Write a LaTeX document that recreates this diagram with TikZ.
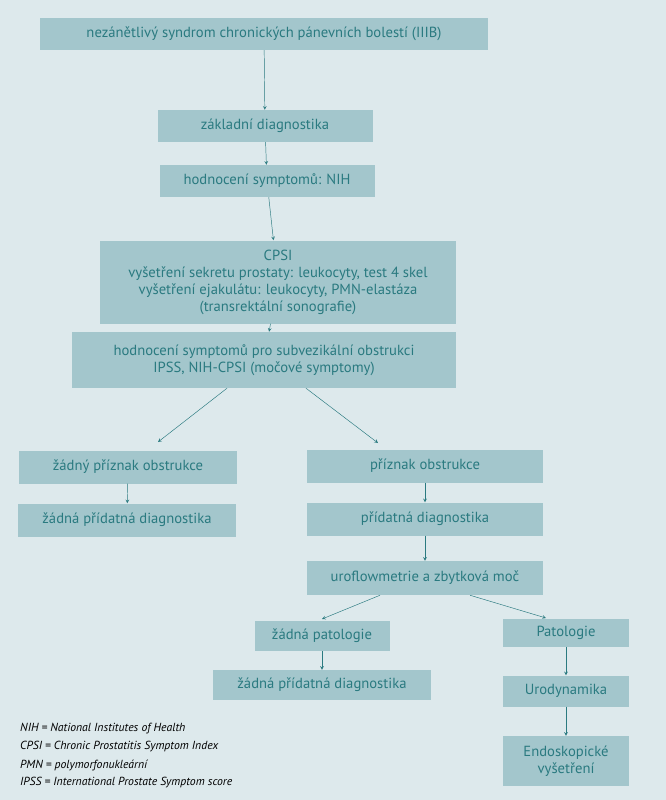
\documentclass[tikz,border=0pt]{standalone}
\usepackage{fontspec}
\setmainfont{PT Sans}
\definecolor{bgcol}{HTML}{DDE9EC}
\definecolor{boxcol}{HTML}{A3C6CC}
\definecolor{arrcol}{HTML}{2A7A80}
\begin{document}
\begin{tikzpicture}[x=0.03cm,y=-0.03cm,
    box/.style = {fill=boxcol, inner sep=2pt, align=center, font=\fontsize{12.5}{14.5}\selectfont},
    every path/.style = {color=arrcol},
    arr/.style = {->, >=stealth, thin},
    legend/.style = {anchor=west, font=\fontsize{10}{12}\selectfont\itshape, text=black, inner sep=0pt}]
    \fill[bgcol] (0,0) rectangle (666,800);
    \node[box, minimum width=448*0.03cm, minimum height=32*0.03cm] (top) at (264,34) {nezánětlivý syndrom chronických pánevních bolestí (IIIB)};
    \node[box, minimum width=215*0.03cm, minimum height=32*0.03cm] (basic) at (265,126) {základní diagnostika};
    \node[box, minimum width=215*0.03cm, minimum height=32*0.03cm] (nih) at (267,181) {hodnocení symptomů: NIH};
    \node[box, minimum width=356*0.03cm, minimum height=83*0.03cm] (cpsi) at (278,282) {CPSI\\vyšetření sekretu prostaty: leukocyty, test 4 skel\\vyšetření ejakulátu: leukocyty, PMN-elastáza\\(transrektální sonografie)};
    \node[box, minimum width=384*0.03cm, minimum height=56*0.03cm] (ipss) at (264,360) {hodnocení symptomů pro subvezikální obstrukci\\IPSS, NIH-CPSI (močové symptomy)};
    \node[box, minimum width=218*0.03cm, minimum height=33*0.03cm] (noobs) at (128,467) {žádný příznak obstrukce};
    \node[box, minimum width=218*0.03cm, minimum height=33*0.03cm] (nodiag) at (127,520) {žádná přídatná diagnostika};
    \node[box, minimum width=236*0.03cm, minimum height=33*0.03cm] (obs) at (425,466) {příznak obstrukce};
    \node[box, minimum width=236*0.03cm, minimum height=33*0.03cm] (adddiag) at (425,519) {přídatná diagnostika};
    \node[box, minimum width=236*0.03cm, minimum height=34*0.03cm] (uro) at (425,578) {uroflowmetrie a zbytková moč};
    \node[box, minimum width=135*0.03cm, minimum height=30*0.03cm] (nopat) at (322,636) {žádná patologie};
    \node[box, minimum width=126*0.03cm, minimum height=28*0.03cm] (pat) at (566,633) {Patologie};
    \node[box, minimum width=218*0.03cm, minimum height=30*0.03cm] (nodiag2) at (322,685) {žádná přídatná diagnostika};
    \node[box, minimum width=126*0.03cm, minimum height=31*0.03cm] (urodyn) at (566,691) {Urodynamika};
    \node[box, minimum width=126*0.03cm, minimum height=50*0.03cm] (endo) at (566,761) {Endoskopické\\vyšetření};
    \coordinate (lt) at (158,442);
    \coordinate (rt) at (378,443);
    \coordinate (ult) at (322,619);
    \coordinate (urt) at (546,618);
    \draw[arr] (top) -- (basic);
    \draw[arr] (basic) -- (nih);
    \draw[arr] (nih) -- (cpsi);
    \draw[arr] (cpsi) -- (ipss);
    \draw[arr] (ipss.south -| 227,0) -- (lt);
    \draw[arr] (ipss.south -| 306,0) -- (rt);
    \draw[arr] (noobs) -- (nodiag);
    \draw[arr] (obs) -- (adddiag);
    \draw[arr] (adddiag) -- (uro);
    \draw[arr] (uro.south -| 380,0) -- (ult);
    \draw[arr] (uro.south -| 470,0) -- (urt);
    \draw[arr] (nopat) -- (nodiag2);
    \draw[arr] (pat) -- (urodyn);
    \draw[arr] (urodyn) -- (endo);
    \node[legend] (l1) at (20,729) {NIH = National Institutes of Health};
    \node[legend] (l2) at (20,747) {CPSI = Chronic Prostatitis Symptom Index};
    \node[legend] (l3) at (20,765) {PMN = polymorfonukleární};
    \node[legend] (l4) at (20,783) {IPSS = International Prostate Symptom score};
\end{tikzpicture}
\end{document}
